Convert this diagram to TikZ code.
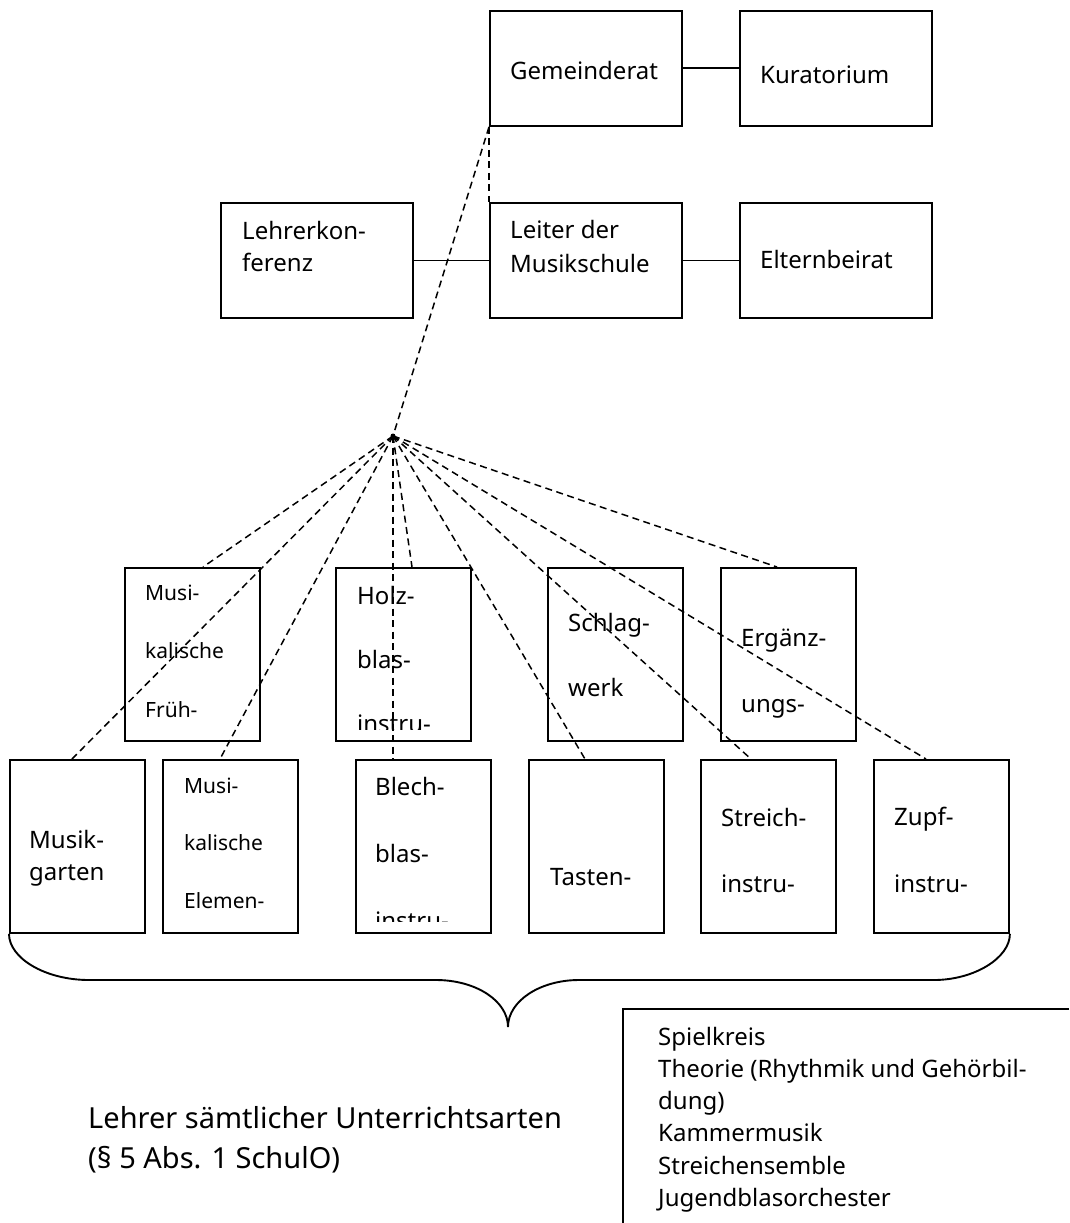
\documentclass[tikz,border=0pt]{standalone}
\usepackage{fontspec}
\setmainfont{Noto Sans}
\tikzset{
  orgbox/.style={draw, line width=1.9pt, minimum width=192pt, minimum height=115pt, anchor=north west, inner sep=0pt},
  unitbox/.style={draw, line width=1.9pt, minimum width=135pt, minimum height=173pt, anchor=north west, inner sep=0pt},
  lbl/.style 2 args={font=\fontsize{#1}{#2}\selectfont, anchor=base west, align=left, inner sep=0pt},
  link/.style={line width=1.9pt},
  dashlink/.style={line width=1.5pt, dash pattern=on 7pt off 4.5pt}
}
\begin{document}
\begin{tikzpicture}[x=1pt,y=-1pt]
\useasboundingbox (0,0) rectangle (1069,1223);
% leitung (labels sit on the baseline of their last line)
\node[orgbox] (gem) at (489,10) {};
\node[orgbox] (kur) at (739,10) {};
\node[orgbox] (lk) at (220,202) {};
\node[orgbox] (leiter) at (489,202) {};
\node[orgbox] (eb) at (739,202) {};
\node[lbl={24}{33}] (gemT) at ([shift={(21,69)}]gem.north west) {Gemeinderat};
\node[lbl={24}{33}] (kurT) at ([shift={(21,73)}]kur.north west) {Kuratorium};
\node[lbl={24}{32}] (lkT) at ([shift={(22,69)}]lk.north west) {Lehrerkon-\\ferenz};
\node[lbl={24}{34}] (leiterT) at ([shift={(21,70)}]leiter.north west) {Leiter der\\Musikschule};
\node[lbl={24}{33}] (ebT) at ([shift={(21,66)}]eb.north west) {Elternbeirat};
\draw[link] (gem.east) -- (kur.west);
\draw[link] (lk.east) -- (leiter.west);
\draw[link] (leiter.east) -- (eb.west);
% unterrichtsarten, obere reihe
\node[unitbox] (mfe) at (124,567) {};
\node[unitbox] (holz) at (335,567) {};
\node[unitbox] (schlag) at (547,567) {};
\node[unitbox] (erg) at (720,567) {};
\node[lbl={21}{58.5}] (mfeT) at ([shift={(21,150)}]mfe.north west) {Musi-\\kalische\\Früh-};
\begin{scope}
  \clip ([shift={(1,1)}]holz.north west) rectangle ([shift={(-1,-12)}]holz.south east);
  \node[lbl={24}{64}] (holzT) at ([shift={(22,165)}]holz.north west) {Holz-\\blas-\\instru-};
\end{scope}
\node[lbl={24}{65}] (schlagT) at ([shift={(21,129)}]schlag.north west) {Schlag-\\werk};
\node[lbl={24}{66}] (ergT) at ([shift={(21,145)}]erg.north west) {Ergänz-\\ungs-};
% untere reihe
\node[unitbox] (mg) at (9,759) {};
\node[unitbox] (mel) at (162,759) {};
\node[unitbox] (blech) at (355,759) {};
\node[unitbox] (tasten) at (528,759) {};
\node[unitbox] (streich) at (700,759) {};
\node[unitbox] (zupf) at (873,759) {};
\node[lbl={24}{32}] (mgT) at ([shift={(20,121)}]mg.north west) {Musik-\\garten};
\node[lbl={21}{57.5}] (melT) at ([shift={(22,149)}]mel.north west) {Musi-\\kalische\\Elemen-};
\begin{scope}
  \clip ([shift={(1,1)}]blech.north west) rectangle ([shift={(-1,-12)}]blech.south east);
  \node[lbl={24}{67}] (blechT) at ([shift={(20,170)}]blech.north west) {Blech-\\blas-\\instru-};
\end{scope}
\node[lbl={24}{33}] (tastenT) at ([shift={(22,126)}]tasten.north west) {Tasten-};
\node[lbl={24}{66}] (streichT) at ([shift={(21,133)}]streich.north west) {Streich-\\instru-};
\node[lbl={24}{67}] (zupfT) at ([shift={(21,133)}]zupf.north west) {Zupf-\\instru-};
% gestrichelte verbindungen
\coordinate (hub) at (393,436);
\draw[dashlink] (gem.south west) -- (leiter.north west);
\draw[dashlink] (gem.south west) -- (hub);
\foreach \b/\d in {mfe/79, holz/77, erg/57, mg/63, mel/58, blech/38, tasten/57, streich/51, zupf/53}
  \draw[dashlink] (hub) -- ([xshift=\d pt]\b.north west);
\fill (hub) circle (2.5);
% klammer
\draw[link] (mg.south west) .. controls (9,958) and (45,980) .. (89,980) -- (436,980)
  .. controls (476,980) and (508,1001) .. (508,1027)
  .. controls (508,1001) and (540,980) .. (579,980) -- (934,980)
  .. controls (974,980) and (zupf.south east |- 0,958) .. (zupf.south east);
\node[lbl={29}{40}] (lehrerT) at (88,1168) {Lehrer sämtlicher Unterrichtsarten\\(§ 5 Abs. 1 SchulO)};
% weitere angebote
\draw[link] (1069,1009) -- (623,1009) -- (623,1223);
\node[lbl={24}{32.3}] (angebotT) at (658,1206.5) {Spielkreis\\Theorie (Rhythmik und Gehörbil-\\dung)\\Kammermusik\\Streichensemble\\Jugendblasorchester};
\end{tikzpicture}
\end{document}
